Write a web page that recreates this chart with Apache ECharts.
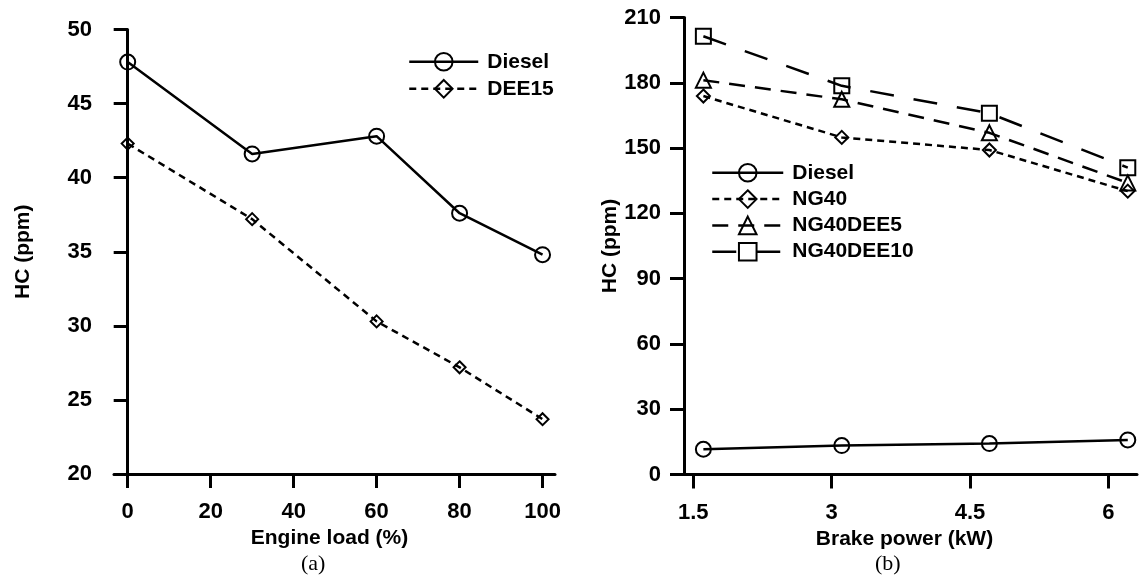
<!DOCTYPE html>
<html>
<head>
<meta charset="utf-8">
<style>
  html, body { margin: 0; padding: 0; background: #fff; }
  #chart { width: 1141px; height: 581px; }
</style>
<script src="https://cdn.jsdelivr.net/npm/echarts@6/dist/echarts.min.js"></script>
</head>
<body>
<div id="chart"></div>
<script>
// panel (a): HC vs engine load
const loadA = [0, 30, 60, 80, 100]
const dieselA = [47.8, 41.6, 42.8, 37.6, 34.8]
const dee15A = [42.3, 37.2, 30.3, 27.2, 23.7]
const loadTicks = [0, 20, 40, 60, 80, 100]

// panel (b): HC vs brake power
const powerB = [1.61, 3.11, 4.71, 6.21]
const dieselB = [11.6, 13.3, 14.2, 15.9]
const ng40B = [173.9, 154.9, 149.1, 130.2]
const ng40dee5B = [181.2, 172.4, 157.0, 134.0]
const ng40dee10B = [201.4, 178.6, 166.0, 141.0]
const powerTicks = [1.5, 3, 4.5, 6]

const font = 'Liberation Sans, Arial, sans-serif'
const serif = 'Liberation Serif, Times New Roman, serif'
const black = '#000'

function pairs(xs, ys) {
  return xs.map((x, i) => [x, ys[i]])
}

const axisLine = { show: true, lineStyle: { color: black, width: 3 } }
const nameStyle = { color: black, fontSize: 21, fontWeight: 'bold', fontFamily: font }

function tickStyle(custom) {
  const t = { show: true, inside: false, length: 14, lineStyle: { color: black, width: 3 } }
  if (custom) t.customValues = custom
  return t
}

function labelStyle(margin, custom) {
  const l = { color: black, fontSize: 22, fontWeight: 'bold', fontFamily: font, margin: margin }
  if (custom) l.customValues = custom
  return l
}

function lineSeries(name, xi, data, symbol, size, dash) {
  return {
    name: name,
    type: 'line',
    xAxisIndex: xi,
    yAxisIndex: xi,
    data: data,
    symbol: symbol,
    symbolSize: size,
    showSymbol: true,
    animation: false,
    lineStyle: { color: black, width: 2.5, type: dash },
    itemStyle: { color: 'transparent', borderColor: black, borderWidth: 2 }
  }
}

const legendText = { color: black, fontSize: 21, fontWeight: 'bold', fontFamily: font, padding: [0, 0, 0, 4] }
const legendLine = { color: black, width: 2.5 }
const legendItem = { color: 'transparent', borderColor: black, borderWidth: 2 }

const chart = echarts.init(document.getElementById('chart'), null, { renderer: 'canvas' })

chart.setOption({
  backgroundColor: '#fff',
  title: [
    { text: '(a)', left: 301, top: 553, padding: 0, textStyle: { fontFamily: serif, fontSize: 22, fontWeight: 'normal', color: black } },
    { text: '(b)', left: 875, top: 553, padding: 0, textStyle: { fontFamily: serif, fontSize: 22, fontWeight: 'normal', color: black } }
  ],
  grid: [
    { left: 114, top: 29.5, width: 441, height: 444.5 },
    { left: 684, top: 17.5, width: 453, height: 457 }
  ],
  legend: [
    {
      data: ['Diesel', 'DEE15'],
      orient: 'vertical', left: 408, top: 51.3, padding: 0,
      itemWidth: 69, itemHeight: 22, itemGap: 6,
      textStyle: legendText, lineStyle: legendLine, itemStyle: legendItem
    },
    {
      data: ['Diesel', 'NG40', 'NG40DEE5', 'NG40DEE10'],
      orient: 'vertical', left: 711, top: 162.3, padding: 0,
      itemWidth: 71, itemHeight: 22, itemGap: 5.3,
      textStyle: legendText, lineStyle: legendLine, itemStyle: legendItem
    }
  ],
  xAxis: [
    {
      type: 'value', gridIndex: 0, min: -3.3, max: 103,
      axisLine: axisLine, axisTick: tickStyle(loadTicks), axisLabel: labelStyle(27, loadTicks),
      splitLine: { show: false },
      name: 'Engine load (%)', nameLocation: 'middle', nameGap: 47,
      nameTextStyle: Object.assign({ padding: [0, 10, 0, 0] }, nameStyle)
    },
    {
      type: 'value', gridIndex: 1, min: 1.4, max: 6.31,
      axisLine: axisLine, axisTick: tickStyle(powerTicks), axisLabel: labelStyle(27, powerTicks),
      splitLine: { show: false },
      name: 'Brake power (kW)', nameLocation: 'middle', nameGap: 47,
      nameTextStyle: Object.assign({ padding: [0, 12, 0, 0] }, nameStyle)
    }
  ],
  yAxis: [
    {
      type: 'value', gridIndex: 0, min: 20, max: 50, interval: 5,
      axisLine: axisLine, axisTick: tickStyle(), axisLabel: labelStyle(22), splitLine: { show: false },
      name: 'HC (ppm)', nameLocation: 'middle', nameGap: 80, nameTextStyle: nameStyle
    },
    {
      type: 'value', gridIndex: 1, min: 0, max: 210, interval: 30,
      axisLine: axisLine, axisTick: tickStyle(), axisLabel: labelStyle(23), splitLine: { show: false },
      name: 'HC (ppm)', nameLocation: 'middle', nameGap: 63, nameTextStyle: nameStyle
    }
  ],
  series: [
    lineSeries('Diesel', 0, pairs(loadA, dieselA), 'circle', 15, 'solid'),
    lineSeries('DEE15', 0, pairs(loadA, dee15A), 'diamond', 12, [7, 5]),
    lineSeries('Diesel', 1, pairs(powerB, dieselB), 'circle', 15, 'solid'),
    lineSeries('NG40', 1, pairs(powerB, ng40B), 'diamond', 13, [7, 5]),
    lineSeries('NG40DEE5', 1, pairs(powerB, ng40dee5B), 'triangle', 15, [16, 10]),
    lineSeries('NG40DEE10', 1, pairs(powerB, ng40dee10B), 'rect', 15, [24, 20])
  ]
})

window.addEventListener('resize', () => chart.resize())
</script>
</body>
</html>
